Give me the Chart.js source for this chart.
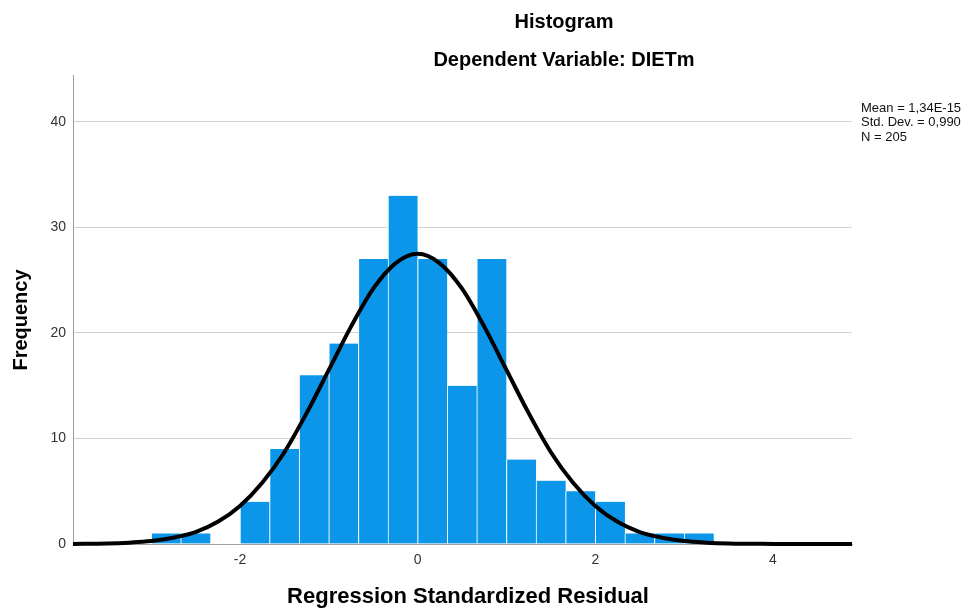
<!DOCTYPE html>
<html>
<head>
<meta charset="utf-8">
<script src="https://cdn.jsdelivr.net/npm/chart.js@4/dist/chart.umd.min.js"></script>
<style>
  body { margin: 0; background: #fff; }
  #wrap { width: 976px; height: 609px; }
</style>
</head>
<body>
<div id="wrap"><canvas id="histChart" width="976" height="609"></canvas></div>
<script>
// 直方圖數據 (bin 中心, 寬度 1/3)
const binCenters = [-2.833, -2.5, -2.167, -1.833, -1.5, -1.167, -0.833, -0.5, -0.167,
                    0.167, 0.5, 0.833, 1.167, 1.5, 1.833, 2.167, 2.5, 2.833, 3.167];
const binCounts  = [1, 1, 0, 4, 9, 16, 19, 27, 33, 27, 15, 27, 8, 6, 5, 4, 1, 1, 1];

// 常態曲線
const curveX = [-3.88, -3.5, -3.25, -3, -2.75, -2.5, -2.25, -2, -1.75, -1.5, -1.25, -1, -0.75, -0.5, -0.25, 0,
                0.25, 0.5, 0.75, 1, 1.25, 1.5, 1.75, 2, 2.25, 2.5, 2.75, 3, 3.25, 3.5, 4, 4.5, 4.89];
const curveY = [0.01, 0.05, 0.13, 0.28, 0.6, 1.13, 2.1, 3.6, 5.8, 8.7, 12.4, 16.5, 20.6, 24.2, 26.6, 27.5,
                26.6, 24.2, 20.6, 16.5, 12.4, 8.7, 5.8, 3.6, 2.1, 1.13, 0.6, 0.28, 0.13, 0.05, 0.01, 0, 0];

const xTicks = [-2, 0, 2, 4];
const yTicks = [0, 10, 20, 30, 40];
const statsLines = ['Mean = 1,34E-15', 'Std. Dev. = 0,990', 'N = 205'];

const FONT = '"Liberation Sans", Arial, sans-serif';

// 文字繪製插件
const textPlugin = {
    id: 'textPlugin',
    afterDraw(chart) {
        const ctx = chart.ctx;
        const area = chart.chartArea;
        ctx.save();
        ctx.fillStyle = '#000';
        ctx.textAlign = 'center';
        ctx.textBaseline = 'alphabetic';
        ctx.font = 'bold 20px ' + FONT;
        ctx.fillText('Histogram', 564, 28);
        ctx.fillText('Dependent Variable: DIETm', 564, 66);

        ctx.font = 'bold 22px ' + FONT;
        ctx.fillText('Regression Standardized Residual', 468, 603);

        ctx.save();
        ctx.translate(27, 320);
        ctx.rotate(-Math.PI / 2);
        ctx.font = 'bold 20px ' + FONT;
        ctx.fillText('Frequency', 0, 0);
        ctx.restore();

        ctx.textAlign = 'left';
        ctx.textBaseline = 'middle';
        ctx.font = '13px ' + FONT;
        ctx.fillStyle = '#111';
        statsLines.forEach((t, i) => ctx.fillText(t, area.right + 9, 108 + i * 14.5));
        ctx.restore();
    }
};

function initializeHistogram() {
    const ctx = document.getElementById('histChart').getContext('2d');

    const chartConfig = {
        type: 'bar',
        data: {
            datasets: [{
                type: 'line',
                data: curveX.map((x, i) => ({ x: x, y: curveY[i] })),
                borderColor: '#000',
                borderWidth: 4,
                pointRadius: 0,
                cubicInterpolationMode: 'monotone',
                clip: { left: 0, right: 0, top: 0, bottom: 4 },
                order: 0
            }, {
                type: 'bar',
                data: binCenters.map((x, i) => ({ x: x, y: binCounts[i] })),
                backgroundColor: '#0c96ea',
                borderColor: '#ffffff',
                borderWidth: { left: 1, right: 0, top: 0, bottom: 0 },
                borderSkipped: false,
                barPercentage: 1,
                categoryPercentage: 1,
                order: 1
            }]
        },
        options: {
            responsive: false,
            animation: false,
            layout: { padding: { top: 75, right: 124, left: 0, bottom: 0 } },
            plugins: {
                legend: { display: false },
                tooltip: { enabled: false }
            },
            scales: {
                x: {
                    type: 'linear',
                    min: -3.88,
                    max: 4.89,
                    offset: false,
                    afterBuildTicks: (scale) => { scale.ticks = xTicks.map(v => ({ value: v })); },
                    afterFit: (scale) => { scale.height = 65; },
                    grid: { display: false, drawTicks: false },
                    border: { display: true, color: '#a0a0a0', width: 1 },
                    ticks: {
                        padding: 8,
                        color: '#333',
                        font: { family: FONT, size: 14 }
                    }
                },
                y: {
                    min: 0,
                    max: 44.45,
                    afterBuildTicks: (scale) => { scale.ticks = yTicks.map(v => ({ value: v })); },
                    afterFit: (scale) => { scale.width = 73; },
                    grid: { color: '#d2d2d2', lineWidth: 1, drawTicks: false },
                    border: { display: true, color: '#a0a0a0', width: 1 },
                    ticks: {
                        padding: 7,
                        color: '#333',
                        font: { family: FONT, size: 14 }
                    }
                }
            }
        },
        plugins: [textPlugin]
    };

    new Chart(ctx, chartConfig);
}

initializeHistogram();
</script>
</body>
</html>
